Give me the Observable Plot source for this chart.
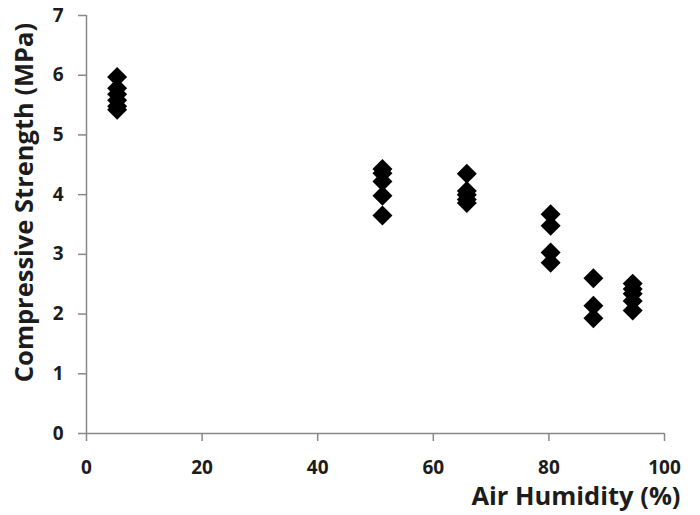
<!DOCTYPE html>
<html>
<head>
<meta charset="utf-8">
<script src="https://cdn.jsdelivr.net/npm/d3@7"></script>
<script src="https://cdn.jsdelivr.net/npm/@observablehq/plot@0.6"></script>
<style>
  html, body { margin: 0; padding: 0; background: #fff; }
  #chart svg { display: block; }
</style>
</head>
<body>
<div id="chart"></div>
<script>
// Air humidity (%) and compressive strength (MPa) readings
const humidity = [
  5.3, 5.3, 5.3, 5.3, 5.3, 5.3,
  51.2, 51.2, 51.2, 51.2, 51.2,
  65.8, 65.8, 65.8, 65.8, 65.8,
  80.3, 80.3, 80.3, 80.3,
  87.7, 87.7, 87.7,
  94.5, 94.5, 94.5, 94.5, 94.5
];
const strength = [
  5.97, 5.78, 5.68, 5.58, 5.48, 5.42,
  4.43, 4.36, 4.22, 3.98, 3.65,
  4.35, 4.06, 4.0, 3.92, 3.86,
  3.67, 3.48, 3.03, 2.86,
  2.6, 2.14, 1.93,
  2.51, 2.42, 2.34, 2.22, 2.06
];
const xTicks = [0, 20, 40, 60, 80, 100];
const yTicks = [0, 1, 2, 3, 4, 5, 6, 7];
const xTitle = "Air Humidity (%)";
const yTitle = "Compressive Strength (MPa)";

const data = humidity.map((h, i) => ({humidity: h, strength: strength[i]}));

const axisColor = "#888888";
const textColor = "#1c1c1c";

const chart = Plot.plot({
  width: 700,
  height: 515,
  marginLeft: 86,
  marginRight: 36,
  marginTop: 15,
  marginBottom: 82,
  style: {fontFamily: "'Open Sans', sans-serif", fontWeight: "bold", fontSize: "19px", color: textColor, background: "#fff"},
  x: {domain: [0, 100]},
  y: {domain: [0, 7]},
  marks: [
    Plot.axisX({ticks: xTicks, tickFormat: "d", tickSize: 8, tickPadding: 19, stroke: axisColor, strokeWidth: 1.5,
      fill: textColor, label: null}),
    Plot.axisY({ticks: yTicks, tickFormat: "d", tickSize: 8, tickPadding: 15, stroke: axisColor, strokeWidth: 1.5,
      fill: textColor, label: null}),
    Plot.ruleX([0], {stroke: axisColor, strokeWidth: 1.5}),
    Plot.ruleY([0], {stroke: axisColor, strokeWidth: 1.5}),
    Plot.dot(data, {x: "humidity", y: "strength", symbol: "diamond2", r: 9, fill: "#000", stroke: "none"}),
    Plot.text([xTitle], {frameAnchor: "bottom-right", text: d => d, textAnchor: "end", lineAnchor: "middle",
      dx: 16, dy: 63, fontSize: 25.5, fontWeight: "bold", fill: textColor}),
    Plot.text([yTitle], {frameAnchor: "left", text: d => d, textAnchor: "middle", lineAnchor: "middle",
      rotate: -90, dx: -62, dy: -22, fontSize: 25.5, fontWeight: "bold", fill: textColor})
  ]
});
document.getElementById("chart").appendChild(chart);
</script>
</body>
</html>
